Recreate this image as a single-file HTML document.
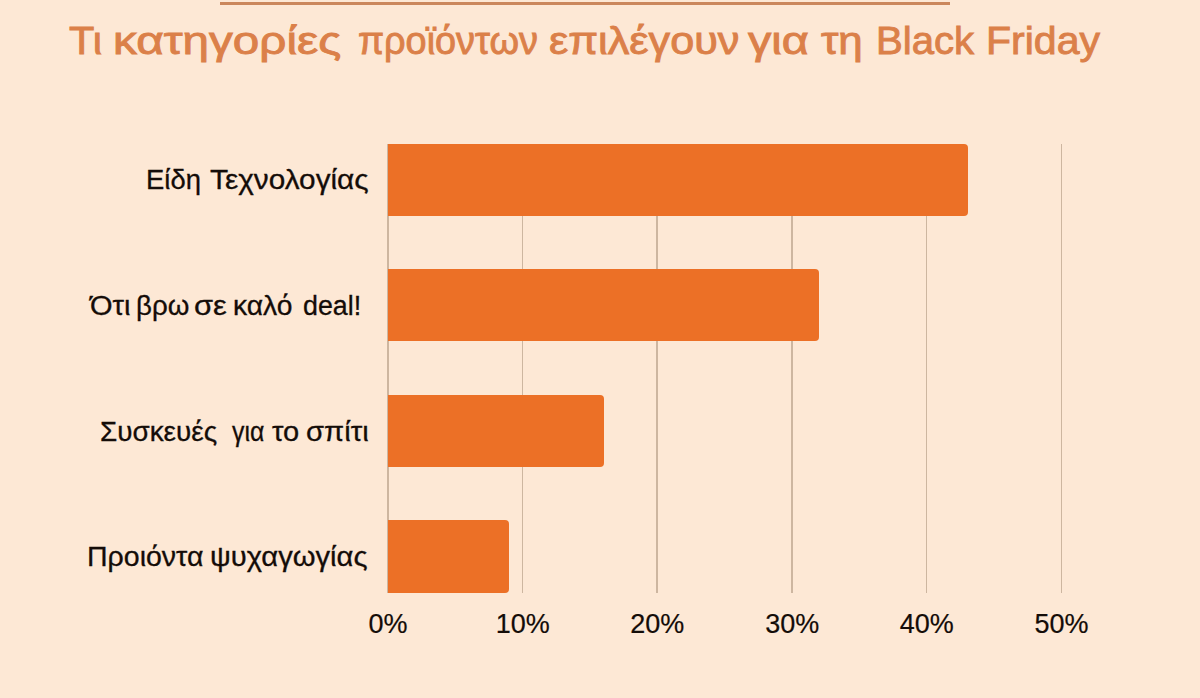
<!DOCTYPE html>
<html><head><meta charset="utf-8">
<style>
html,body{margin:0;padding:0;}
body{width:1200px;height:698px;overflow:hidden;position:relative;background:#FDE8D5;font-family:"Liberation Sans",sans-serif;}
.a{position:absolute;white-space:nowrap;transform-origin:0 0;}
.tw{font-size:39.6px;line-height:47.52px;color:#DB8049;-webkit-text-stroke:0.9px #DB8049;}
.lb{font-size:27px;line-height:32.4px;color:#140C08;-webkit-text-stroke:0.3px #140C08;}
.ax{font-size:27px;line-height:32px;color:#140C08;-webkit-text-stroke:0.2px #140C08;width:120px;text-align:center;}
.g{position:absolute;top:144px;height:449px;width:1.5px;background:#CDB6A0;}
.bar{position:absolute;left:388px;background:#EC7026;border-radius:0 4px 4px 0;}
</style></head><body>
<div class="a" style="left:220px;top:2px;width:730px;height:3px;background:#CB875C;"></div>
<div class="a tw" style="left:69.3px;top:16.9px;transform:scaleX(1.0484)">Τι</div>
<div class="a tw" style="left:113.09px;top:16.9px;transform:scaleX(1.2032)">κατηγορίες</div>
<div class="a tw" style="left:358.24px;top:16.9px;transform:scaleX(0.9559)">προϊόντων</div>
<div class="a tw" style="left:549.41px;top:16.9px;transform:scaleX(1.0916)">επιλέγουν</div>
<div class="a tw" style="left:748.0px;top:16.9px;transform:scaleX(1.1804)">για</div>
<div class="a tw" style="left:820.5px;top:16.9px;transform:scaleX(1.1111)">τη</div>
<div class="a tw" style="left:876.16px;top:16.9px;transform:scaleX(1.0138)">Black</div>
<div class="a tw" style="left:986.39px;top:16.9px;transform:scaleX(1.0374)">Friday</div>
<div class="g" style="left:387.25px"></div>
<div class="g" style="left:521.95px"></div>
<div class="g" style="left:656.45px"></div>
<div class="g" style="left:791.45px"></div>
<div class="g" style="left:925.95px"></div>
<div class="g" style="left:1060.75px"></div>
<div class="bar" style="top:144px;height:72.0px;width:579.5px"></div>
<div class="bar" style="top:269px;height:72.0px;width:431.0px"></div>
<div class="bar" style="top:394.6px;height:72.1px;width:215.7px"></div>
<div class="bar" style="top:520px;height:72.7px;width:121.1px"></div>
<div class="a lb" style="left:146.17px;top:164.2px;transform:scaleX(1.0157)">Είδη</div>
<div class="a lb" style="left:209.5px;top:164.2px;transform:scaleX(1.1021)">Τεχνολογίας</div>
<div class="a lb" style="left:89.68px;top:290.4px;transform:scaleX(1.0763)">Ότι</div>
<div class="a lb" style="left:135.95px;top:290.4px;transform:scaleX(1.0255)">βρω</div>
<div class="a lb" style="left:193.76px;top:290.4px;transform:scaleX(1.1426)">σε</div>
<div class="a lb" style="left:233.41px;top:290.4px;transform:scaleX(1.0463)">καλό</div>
<div class="a lb" style="left:303.26px;top:290.4px;transform:scaleX(0.9936)">deal!</div>
<div class="a lb" style="left:99.77px;top:415.7px;transform:scaleX(1.0321)">Συσκευές</div>
<div class="a lb" style="left:232.0px;top:415.7px;transform:scaleX(0.9191)">για</div>
<div class="a lb" style="left:271.75px;top:415.7px;transform:scaleX(1.0771)">το</div>
<div class="a lb" style="left:305.67px;top:415.7px;transform:scaleX(1.0813)">σπίτι</div>
<div class="a lb" style="left:86.69px;top:541.0px;transform:scaleX(1.0556)">Προιόντα</div>
<div class="a lb" style="left:210.44px;top:541.0px;transform:scaleX(1.0804)">ψυχαγωγίας</div>
<div class="a ax" style="left:328.0px;top:608px">0%</div>
<div class="a ax" style="left:462.7px;top:608px">10%</div>
<div class="a ax" style="left:597.2px;top:608px">20%</div>
<div class="a ax" style="left:732.2px;top:608px">30%</div>
<div class="a ax" style="left:866.7px;top:608px">40%</div>
<div class="a ax" style="left:1001.5px;top:608px">50%</div>
</body></html>
